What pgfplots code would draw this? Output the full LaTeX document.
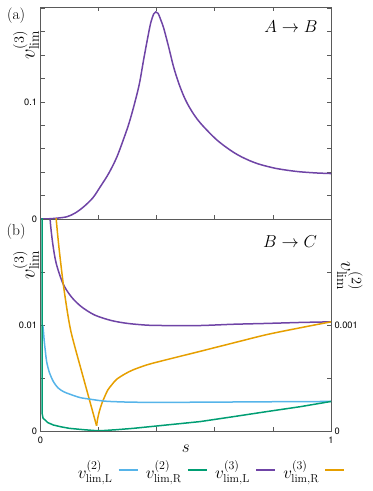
\documentclass[border=0pt]{standalone}
\usepackage{fontspec}
\usepackage{pgfplots}
\pgfplotsset{compat=1.18}
\newfontfamily\tickfont{TeX Gyre Heros}
\definecolor{cblue}{HTML}{56B4E9}
\definecolor{cgreen}{HTML}{009E73}
\definecolor{cpurple}{HTML}{6F44A6}
\definecolor{corange}{HTML}{E69F00}
\definecolor{axgray}{HTML}{5A5A5A}
\pgfplotsset{
  myaxis/.style={
    scale only axis, width=290.5bp, height=212bp,
    xmin=0, xmax=1,
    axis line style={axgray, line width=0.9bp},
    every tick/.style={axgray, line width=0.7bp},
    major tick length=4bp, minor tick length=4bp,
    tick label style={font=\tickfont\fontsize{9.3}{10}\selectfont, text=black},
    /pgf/number format/assume math mode=true,
    scaled ticks=false,
    clip mode=individual,
  }
}
\begin{document}
\begin{tikzpicture}
\path[use as bounding box] (0bp,0bp) rectangle (373bp,491bp);
% ---------------- top panel (a)
\begin{axis}[myaxis,
  at={(40.5bp,272bp)}, anchor=south west,
  ymin=0, ymax=0.181,
  xtick={0.2,0.4,0.6,0.8}, xticklabels={}, xtick pos=both,
  ytick={0,0.1}, yticklabels={0,0.1},
  minor ytick={0.02,0.04,0.06,0.08,0.12,0.14,0.16,0.18},
  ytick pos=both, yticklabel pos=left,
]
\addplot[cpurple, line width=1.5bp, smooth] coordinates {
(0,0) (0.03,0.0002) (0.06,0.0008) (0.092,0.002) (0.12,0.0052) (0.149,0.0105)
(0.18,0.018) (0.206,0.0276) (0.235,0.039) (0.263,0.053) (0.29,0.071)
(0.305,0.082) (0.321,0.096) (0.34,0.115) (0.355,0.136) (0.37,0.156) (0.38,0.168)
(0.39,0.1752) (0.397,0.1768) (0.405,0.1755) (0.414,0.170) (0.424,0.163)
(0.44,0.148) (0.458,0.130) (0.475,0.1165) (0.493,0.1050) (0.51,0.0965)
(0.53,0.0885) (0.55,0.0820) (0.58,0.0740) (0.607,0.0675) (0.635,0.0620)
(0.664,0.0570) (0.69,0.0533) (0.722,0.0496) (0.75,0.0470) (0.779,0.0450)
(0.81,0.0432) (0.85,0.0416) (0.893,0.0403) (0.95,0.0393) (1,0.0388)};
\node[font=\fontsize{15.6}{17}\selectfont] at (axis description cs:-0.084,0.957) {(a)};
\node[font=\fontsize{18}{19}\selectfont] at (axis description cs:0.862,0.906) {$A\rightarrow B$};
\node[rotate=90, font=\fontsize{20}{21}\selectfont] at (axis description cs:-0.05,0.82) {$v^{(3)}_{\mathrm{lim}}$};
\end{axis}
% ---------------- bottom panel (b), left axis: v^(3)
\begin{axis}[myaxis,
  at={(40.5bp,60bp)}, anchor=south west,
  ymin=0, ymax=0.0201,
  xtick={0,0.2,0.4,0.6,0.8,1}, xticklabels={0,,,,,1}, xtick pos=bottom,
  xticklabel style={yshift=-2bp},
  ytick={0,0.01}, yticklabels={0,0.01},
  minor ytick={0.005,0.015},
  ytick pos=left,
]
\addplot[cpurple, line width=1.5bp, smooth] coordinates {
(0.031,0.0225) (0.033,0.0201) (0.042,0.0178) (0.054,0.0159) (0.077,0.0140)
(0.105,0.01276) (0.14,0.0118) (0.186,0.0110) (0.243,0.01048) (0.30,0.0102)
(0.37,0.01003) (0.434,0.0100) (0.549,0.0100) (0.664,0.01012) (0.779,0.0102)
(0.893,0.01029) (1,0.01035)};
\addplot[corange, line width=1.5bp, smooth] coordinates {
(0.052,0.0210) (0.054,0.0201) (0.062,0.0178) (0.071,0.0156) (0.079,0.0138)
(0.088,0.0121) (0.096,0.0107) (0.105,0.0094) (0.12,0.0078) (0.136,0.0062)
(0.153,0.0045) (0.17,0.0028) (0.182,0.0016) (0.193,0.00050)};
\addplot[corange, line width=1.5bp, smooth] coordinates {
(0.193,0.00050) (0.197,0.0012) (0.203,0.0019) (0.211,0.0026) (0.22,0.0032)
(0.232,0.0039) (0.246,0.0044) (0.262,0.0049) (0.29,0.0054) (0.319,0.0058)
(0.37,0.0063) (0.434,0.00676) (0.549,0.00755) (0.664,0.00835)
(0.779,0.00914) (0.893,0.00978) (1,0.01035)};
\node[font=\fontsize{15.6}{17}\selectfont] at (axis description cs:-0.084,0.94) {(b)};
\node[font=\fontsize{18}{19}\selectfont] at (axis description cs:0.859,0.892) {$B\rightarrow C$};
\node[rotate=90, font=\fontsize{20}{21}\selectfont] at (axis description cs:-0.05,0.783) {$v^{(3)}_{\mathrm{lim}}$};
\node[font=\fontsize{17}{18}\selectfont] at (axis description cs:0.5,-0.085) {$s$};
\end{axis}
% ---------------- bottom panel (b), right axis: v^(2)
\begin{axis}[myaxis,
  at={(40.5bp,60bp)}, anchor=south west,
  ymin=0, ymax=0.00201,
  axis x line=none,
  axis y line*=right,
  ytick={0,0.001}, yticklabels={0,0.001},
  minor ytick={0.0005,0.0015},
  ytick pos=right, yticklabel pos=right,
  legend columns=4,
  legend plot pos=right,
  legend image code/.code={\draw[#1] (0bp,0bp) -- (19bp,0bp);},
  legend style={draw=none, fill=none, at={(0.586,-0.185)}, anchor=center,
    font=\fontsize{16.5}{17}\selectfont,
    inner xsep=0pt,
    nodes={inner xsep=1.5bp},
    /tikz/column sep=0pt,
    /tikz/every odd column/.append style={column sep=4bp},
    /tikz/every even column/.append style={column sep=6bp}},
]
\addplot[cblue, line width=1.5bp, smooth] coordinates {
(0.008,0.00100) (0.0096,0.00096) (0.013,0.00085) (0.017,0.00075)
(0.021,0.00066) (0.03,0.00056) (0.044,0.00047) (0.06,0.00041)
(0.0785,0.000374) (0.1,0.00035) (0.136,0.000317) (0.17,0.000302)
(0.205,0.000288) (0.239,0.000280) (0.319,0.000273) (0.434,0.000272)
(0.549,0.000273) (0.664,0.000275) (0.779,0.000277) (0.893,0.000279) (1,0.00028)};
\addlegendentry{$v^{(2)}_{\mathrm{lim,L}}$}
\addplot[cgreen, line width=1.5bp] coordinates {
(0.0055,0.0025) (0.006,0.00016) (0.009,0.00012) (0.0155,0.000105)
(0.025,0.00008) (0.044,0.000057) (0.07,0.00004) (0.10,0.000025)
(0.15,0.000012) (0.193,0.000003) (0.21,0.000003) (0.26,0.000012)
(0.319,0.000025) (0.434,0.000057) (0.549,0.000089) (0.664,0.000136)
(0.779,0.000184) (0.893,0.00023) (1,0.00028)};
\addlegendentry{$v^{(2)}_{\mathrm{lim,R}}$}
\addlegendimage{cpurple, line width=1.5bp}
\addlegendentry{$v^{(3)}_{\mathrm{lim,L}}$}
\addlegendimage{corange, line width=1.5bp}
\addlegendentry{$v^{(3)}_{\mathrm{lim,R}}$}
\node[rotate=-90, font=\fontsize{20}{21}\selectfont] at (axis description cs:1.065,0.731) {$v^{(2)}_{\mathrm{lim}}$};
\end{axis}
\end{tikzpicture}
\end{document}
